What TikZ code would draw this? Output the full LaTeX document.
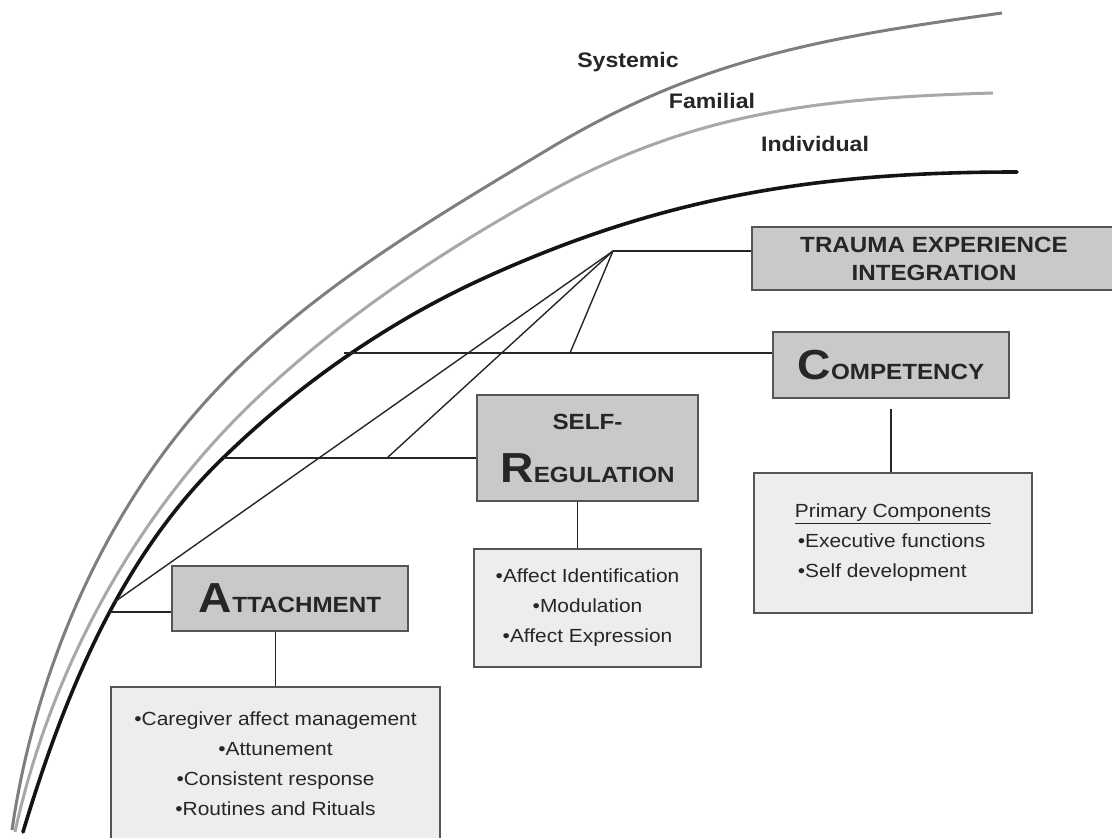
\documentclass[tikz,border=0pt]{standalone}
\usepackage{fontspec}
\setmainfont{Liberation Sans}[FakeStretch=1.1]
\usetikzlibrary{calc}
\definecolor{sysgray}{HTML}{7E7E7E}
\definecolor{famgray}{HTML}{A8A8A8}
\definecolor{hdrfill}{HTML}{C9C9C9}
\definecolor{lstfill}{HTML}{EDEDED}
\definecolor{boxline}{HTML}{555555}
\definecolor{txt}{HTML}{262626}
\newcommand{\Hbig}[1]{{\fontsize{42}{42}\selectfont #1}}
\newcommand{\Hsm}[1]{{\fontsize{22}{22}\selectfont #1}}
\tikzset{
  hdr/.style={draw=boxline, line width=2pt, fill=hdrfill, inner sep=0pt, text=txt, font=\bfseries},
  lst/.style={draw=boxline, line width=1.6pt, fill=lstfill, inner sep=0pt, text=txt, align=center, font=\fontsize{19}{30}\selectfont},
  conn/.style={draw=black!85, line width=1.4pt},
  lvl/.style={font=\bfseries\fontsize{21}{21}\selectfont, text=txt, anchor=base},
  curvesys/.style={draw=sysgray, line width=3pt},
  curvefam/.style={draw=famgray, line width=3pt},
  curveind/.style={draw=black!92, line width=3.6pt, line cap=round}
}
\begin{document}
\begin{tikzpicture}[x=1pt,y=-1pt]
\useasboundingbox (0,0) rectangle (1112,838);
% level curves
\draw[curvesys] (12,830) .. controls (34.5,674.6) and (101.3,516.2) .. (207,400)
  .. controls (301,296) and (427,222) .. (547,150)
  .. controls (701,57.5) and (824,37.7) .. (1002,13);
\draw[curvefam] (15,832) .. controls (50,671) and (135.4,513.7) .. (255,400)
  .. controls (341.3,318) and (442.8,250.4) .. (547,193)
  .. controls (696,111) and (823,98) .. (993,93);
\draw[curveind] (23,832) .. controls (63.5,697) and (120,557) .. (223,458)
  .. controls (297.5,385.4) and (385.6,323.5) .. (480,280)
  .. controls (661.6,196.4) and (817,172) .. (1017,172);
% level labels
\node[lvl] (sys) at (628,67) {Systemic};
\node[lvl] (fam) at (712,108) {Familial};
\node[lvl] (ind) at (815,151) {Individual};
% header boxes
\node[hdr, minimum width=364pt, minimum height=63pt, align=center, font=\bfseries\fontsize{22}{28}\selectfont] (trauma) at (934,258.5) {TRAUMA EXPERIENCE\\INTEGRATION};
\node[hdr, minimum width=236pt, minimum height=66pt] (comp) at (891,365) {\Hbig{C}\Hsm{OMPETENCY}};
\node[hdr, minimum width=221pt, minimum height=106pt, align=center, font=\bfseries\fontsize{22}{53}\selectfont] (selfreg) at (587.5,448) {SELF-\\\Hbig{R}EGULATION};
\node[hdr, minimum width=236pt, minimum height=65pt] (attach) at (290,598.5) {\Hbig{A}\Hsm{TTACHMENT}};
% list boxes
\node[lst, minimum width=329pt, minimum height=154pt] (attlist) at (275.5,764) {•Caregiver affect management\\•Attunement\\•Consistent response\\•Routines and Rituals};
\node[lst, minimum width=227pt, minimum height=118pt] (srlist) at (587.5,608) {•Affect Identification\\•Modulation\\•Affect Expression};
\node[lst, minimum width=278pt, minimum height=140pt, align=left] (complist) at (893,543) {\underline{Primary Components}\\\hspace*{3pt}•Executive functions\\\hspace*{3pt}•Self development};
% connector points
\coordinate (C0) at (613,251);
\coordinate (compL) at (344,353);
\coordinate (compM) at (570,353);
\coordinate (srL) at (223,458);
\coordinate (srM) at (387,458);
\coordinate (attL) at (109,612);
\coordinate (attP) at (113,603);
% connectors
\draw[conn] (C0) -- (C0 -| trauma.west);
\draw[conn] (C0) -- (compM);
\draw[conn] (C0) -- (srM);
\draw[conn] (C0) -- (attP);
\draw[conn] (compL) -- (compL -| comp.west);
\draw[conn] (srL) -- (srL -| selfreg.west);
\draw[conn] (attL) -- (attL -| attach.west);
\draw[conn] (attlist.north |- attach.south) -- (attlist.north);
\draw[conn] ([xshift=-10pt]selfreg.south) -- ([xshift=-10pt]srlist.north);
\draw[conn] ([yshift=-10pt]comp.south) -- (comp.south |- complist.north);
\end{tikzpicture}
\end{document}
